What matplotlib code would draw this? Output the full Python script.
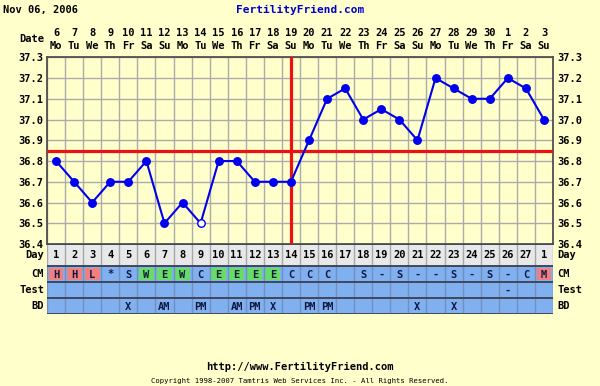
"""Fertility chart (BBT) recreated with matplotlib, saved to out.png."""
import matplotlib

matplotlib.use("Agg")
import matplotlib.pyplot as plt
from matplotlib.patches import Rectangle

# ---- data -----------------------------------------------------------------
cycle_days = [str(d) for d in range(1, 28)] + ["1"]
dates = [str(d) for d in range(6, 31)] + ["1", "2", "3"]
weekdays = ["Mo", "Tu", "We", "Th", "Fr", "Sa", "Su"] * 4
temps = [36.8, 36.7, 36.6, 36.7, 36.7, 36.8, 36.5, 36.6, 36.5, 36.8,
         36.8, 36.7, 36.7, 36.7, 36.9, 37.1, 37.15, 37.0, 37.05, 37.0,
         36.9, 37.2, 37.15, 37.1, 37.1, 37.2, 37.15, 37.0]
open_points = [8]          # index of the hollow (discarded) temperature
coverline = 36.85
ovulation_day = 14
cm = ["H", "H", "L", "*", "S", "W", "E", "W", "C", "E", "E", "E", "E", "C",
      "C", "C", "", "S", "-", "S", "-", "-", "S", "-", "S", "-", "C", "M"]
cm_colour = ["r", "r", "r", "", "", "g", "g", "g", "", "g", "g", "g", "g", "",
             "", "", "", "", "", "", "", "", "", "", "", "", "", "r"]
test = [""] * 25 + ["-", "", ""]
bd = ["", "", "", "", "X", "", "AM", "", "PM", "", "AM", "PM", "X", "",
      "PM", "PM", "", "", "", "", "X", "", "X", "", "", "", "", ""]
yticks = [36.4, 36.5, 36.6, 36.7, 36.8, 36.9, 37.0, 37.1, 37.2, 37.3]

BG = "#FFFFCC"
BLUE_ROW = "#80B0F0"
FONT = dict(family="DejaVu Sans Mono", weight="bold", size=7.5)
W, H = 600, 386


def px(x, y):
    return x / W, 1 - y / H


fig = plt.figure(figsize=(6, 3.86), dpi=100, facecolor=BG)

# ---- temperature axes ----------------------------------------------------
ax = fig.add_axes([47 / W, 142 / H, 506 / W, 186.7 / H], facecolor=BG)
n = len(temps)
xs = [i + 0.5 for i in range(n)]
ax.set_xlim(0, n)
ax.set_ylim(36.4, 37.3)
ax.set_xticks(range(n + 1))
ax.set_yticks(yticks)
ax.set_yticklabels([f"{t:.1f}" for t in yticks], **FONT)
ax.set_xticklabels([])
ax.grid(True, color="#ABABAB", lw=1)
ax.set_axisbelow(True)
ax.tick_params(axis="x", length=0)
ax.tick_params(axis="y", length=0, labelleft=True, labelright=True, pad=3)
for s in ax.spines.values():
    s.set_color("#505050")
    s.set_linewidth(1.3)

ax.axhline(coverline, color="#EE1111", lw=2.3, zorder=3)
ax.axvline(ovulation_day - 0.5, color="#EE1111", lw=2.3, zorder=3)
ax.plot(xs, temps, color="#0000EE", lw=1.5, zorder=4)
for i, (x, t) in enumerate(zip(xs, temps)):
    hollow = i in open_points
    ax.plot(x, t, "o", ms=5.4, mfc="white" if hollow else "#0000EE",
            mec="#0000EE", mew=1.0, zorder=5)

# ---- chart table below -----------------------------------------------------
tb = fig.add_axes([47 / W, 72 / H, 506 / W, 70 / H])
tb.set_xlim(0, n)
tb.set_ylim(70, 0)
tb.axis("off")
rows = [(0, 22), (22, 38), (38, 54), (54, 70)]
tb.add_patch(Rectangle((0, 0), n, 22, fc="#E8E8E8", ec="none"))
tb.add_patch(Rectangle((0, 22), n, 48, fc=BLUE_ROW, ec="none"))
for i in range(n + 1):
    tb.plot([i, i], [0, 22], color="#A8A8A8", lw=1)
    tb.plot([i, i], [22, 70], color="#7090C0", lw=1)
for y in (0, 22, 38, 54, 70):
    tb.plot([0, n], [y, y], color="#404858", lw=1.4)

fills = {"r": "#F08080", "g": "#66DD66"}
for i in range(n):
    if cm_colour[i]:
        tb.add_patch(Rectangle((i + 0.09, 24), 0.82, 12,
                               fc=fills[cm_colour[i]], ec="none"))
    tb.text(i + 0.5, 11, cycle_days[i], ha="center", va="center", color="black", **FONT)
    tb.text(i + 0.5, 30.5, cm[i], ha="center", va="center", color="#101840", **FONT)
    tb.text(i + 0.5, 46.5, test[i], ha="center", va="center", color="#101840", **FONT)
    tb.text(i + 0.5, 62.5, bd[i], ha="center", va="center", color="#101840", **FONT)

for label, (y0, y1) in zip(["Day", "CM", "Test", "BD"], rows):
    yc = 244 + (y0 + y1) / 2
    fig.text(*px(44, yc), label, ha="right", va="center", **FONT)
    fig.text(*px(557, yc), label, ha="left", va="center", **FONT)

# ---- header -----------------------------------------------------------------
fig.text(*px(3, 10), "Nov 06, 2006", ha="left", va="center", **FONT)
fig.text(*px(300, 10), "FertilityFriend.com", ha="center", va="center",
         color="#0000CC", family="DejaVu Sans Mono", weight="bold", size=8)
fig.text(*px(44, 39), "Date", ha="right", va="center", **FONT)
for i in range(n):
    x = 47 + (i + 0.5) * 506 / n
    fig.text(*px(x, 33), dates[i], ha="center", va="center", **FONT)
    fig.text(*px(x, 46), weekdays[i], ha="center", va="center", **FONT)

# ---- footer -----------------------------------------------------------------
fig.text(*px(300, 367), "http://www.FertilityFriend.com", ha="center", va="center", **FONT)
fig.text(*px(300, 381), "Copyright 1998-2007 Tamtris Web Services Inc. - All Rights Reserved.",
         ha="center", va="center", family="DejaVu Sans Mono", size=5.2)

fig.savefig("out.png", dpi=100, facecolor=BG)
